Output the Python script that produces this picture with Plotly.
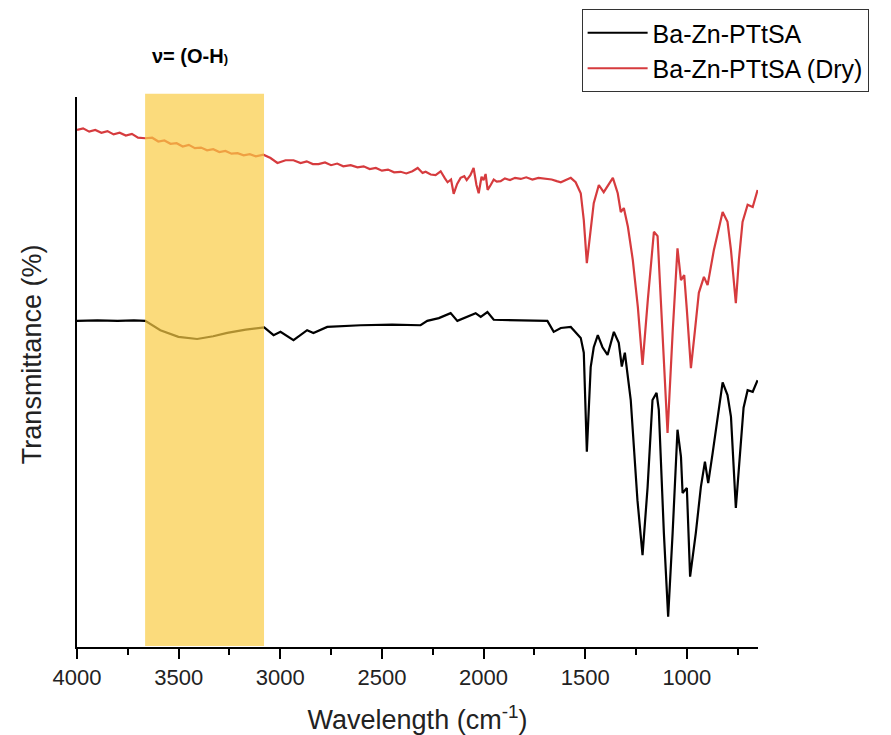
import plotly.graph_objects as go

# ---------------- data ----------------
wn_dry = [4000, 3970, 3940, 3910, 3880, 3850, 3820, 3790, 3760, 3730, 3700, 3664,
          3630, 3600, 3570, 3540, 3510, 3480, 3450, 3420, 3390, 3360, 3330, 3300,
          3270, 3240, 3210, 3180, 3150, 3120, 3083, 3048, 3014, 2974, 2935, 2900,
          2870, 2840, 2812, 2780, 2750, 2720, 2690, 2654, 2620, 2590, 2560, 2530,
          2500, 2470, 2440, 2408, 2380, 2350, 2324, 2300, 2285, 2260, 2236, 2211,
          2190, 2177, 2160, 2147, 2130, 2113, 2095, 2083, 2065, 2049, 2035, 2024,
          2010, 2000, 1990, 1980, 1965, 1950, 1935, 1916, 1895, 1870, 1845, 1817,
          1790, 1760, 1730, 1694, 1665, 1640, 1620, 1571, 1547, 1522, 1507, 1492,
          1473, 1458, 1433, 1409, 1364, 1340, 1325, 1310, 1290, 1266, 1241, 1218,
          1192, 1162, 1144, 1123, 1095, 1070, 1046, 1029, 1013, 1000, 980, 960,
          941, 916, 898, 867, 824, 800, 783, 759, 744, 726, 701, 676, 652]
t_dry = [94.0, 94.3, 93.7, 94.0, 93.5, 93.8, 93.2, 93.5, 93.0, 93.3, 92.6, 92.5,
         92.6, 91.9, 92.1, 91.5, 91.6, 91.0, 91.3, 90.7, 90.8, 90.3, 90.5, 90.0,
         90.2, 89.7, 89.8, 89.4, 89.6, 89.2, 89.5, 88.9, 88.0, 88.5, 88.5, 88.0,
         88.3, 87.8, 87.8, 88.1, 87.6, 87.9, 87.4, 87.6, 87.2, 87.4, 86.9, 87.1,
         86.6, 86.8, 86.3, 86.4, 86.1, 86.5, 87.1, 86.2, 86.4, 85.9, 85.8, 86.5,
         85.2, 84.5, 85.0, 82.4, 84.2, 85.3, 85.6, 84.9, 85.8, 87.1, 84.0, 82.5,
         85.5, 84.9, 86.0, 83.1, 84.0, 85.0, 84.6, 84.7, 85.2, 84.9, 85.3, 85.1,
         85.4, 85.0, 85.3, 85.1, 85.0, 84.7, 84.5, 85.3, 84.5, 82.5, 77.6, 69.8,
         76.4, 80.7, 84.0, 82.7, 85.3, 82.5, 79.1, 79.8, 76.4, 70.4, 61.8, 51.3,
         63.1, 75.5, 74.7, 59.5, 38.9, 57.1, 72.5, 66.7, 67.6, 61.3, 50.7, 57.6,
         64.4, 67.3, 65.8, 72.2, 79.1, 77.3, 72.2, 62.5, 70.4, 77.3, 80.4, 80.0, 83.1]

wn_wet = [4000, 3900, 3800, 3720, 3664, 3590, 3501, 3409, 3330, 3261, 3170, 3079,
          3033, 2999, 2935, 2868, 2837, 2769, 2605, 2450, 2310, 2277, 2220, 2162,
          2129, 2039, 2014, 1981, 1950, 1850, 1760, 1686, 1655, 1620, 1571, 1522,
          1507, 1492, 1473, 1458, 1438, 1415, 1390, 1359, 1335, 1320, 1305, 1276,
          1243, 1218, 1193, 1169, 1149, 1138, 1113, 1092, 1070, 1046, 1029, 1021,
          1000, 984, 956, 931, 911, 895, 873, 849, 824, 800, 783, 759, 742, 721,
          701, 676, 652]
t_wet = [59.3, 59.4, 59.3, 59.4, 59.3, 57.6, 56.4, 56.0, 56.5, 57.1, 57.7, 58.1,
         56.7, 57.3, 55.8, 57.6, 57.1, 58.2, 58.5, 58.6, 58.5, 59.3, 59.8, 60.7,
         59.3, 60.7, 60.0, 60.9, 59.5, 59.4, 59.3, 59.3, 57.3, 58.0, 58.2, 56.2,
         53.5, 35.5, 50.9, 54.5, 56.7, 54.5, 53.1, 57.3, 55.3, 51.0, 53.5, 44.9,
         26.7, 16.7, 29.1, 44.9, 46.2, 43.1, 20.7, 5.5, 20.7, 39.5, 34.6, 28.0,
         28.9, 12.8, 20.7, 29.1, 33.7, 29.8, 35.3, 41.9, 48.1, 45.8, 41.9, 25.3,
         32.8, 43.5, 46.7, 46.4, 48.5]

x_tick_vals = [4000, 3500, 3000, 2500, 2000, 1500, 1000]
x_tick_text = ["4000", "3500", "3000", "2500", "2000", "1500", "1000"]
band_range = [3665, 3080]          # O-H stretching region highlighted
band_label = "ν= (O-H<span style='font-size:13px'>)</span>"
series_names = ["Ba-Zn-PTtSA", "Ba-Zn-PTtSA (Dry)"]
x_title = "Wavelength (cm<sup>-1</sup>)"
y_title = "Transmittance (%)"

FONT = "Arial, 'Liberation Sans', sans-serif"

fig = go.Figure()
fig.add_trace(go.Scatter(x=wn_wet, y=t_wet, mode="lines", name=series_names[0],
                         line=dict(color="#000000", width=2.2)))
fig.add_trace(go.Scatter(x=wn_dry, y=t_dry, mode="lines", name=series_names[1],
                         line=dict(color="#D63B3E", width=2.2)))

fig.add_shape(type="rect", xref="x", yref="paper", x0=band_range[0], x1=band_range[1],
              y0=0.002, y1=1.006, fillcolor="rgb(250,204,69)", opacity=0.7,
              line=dict(width=0), layer="above")

fig.add_annotation(x=3442, y=1.074, xref="x", yref="paper", yanchor="middle",
                   text="<b>" + band_label + "</b>",
                   showarrow=False, font=dict(family=FONT, size=20, color="#000"))

# y-axis title placed like the reference (slightly above the plot centre)
fig.add_annotation(x=-0.065, y=0.532, xref="paper", yref="paper",
                   xanchor="center", yanchor="middle", textangle=-90,
                   text=y_title, showarrow=False,
                   font=dict(family=FONT, size=27, color="#222"))

fig.update_layout(
    width=891, height=735,
    margin=dict(l=77, r=133, t=97, b=88, autoexpand=False),
    paper_bgcolor="white", plot_bgcolor="white",
    font=dict(family=FONT, color="#000"),
    showlegend=True,
    legend=dict(x=0.741, y=1.16, xanchor="left", yanchor="top",
                bordercolor="#333", borderwidth=1, bgcolor="white",
                itemwidth=60,
                font=dict(family=FONT, size=25, color="#000"),
                tracegroupgap=0),
    xaxis=dict(range=[4000, 650], showgrid=False, zeroline=False,
               showline=True, linecolor="#000", linewidth=2,
               automargin=False,
               tickmode="array", tickvals=x_tick_vals, ticktext=x_tick_text,
               ticks="outside", ticklen=10, tickwidth=2, tickcolor="#000",
               minor=dict(dtick=250, ticks="outside", ticklen=6, tickwidth=2,
                          tickcolor="#000", showgrid=False),
               tickfont=dict(family=FONT, size=22, color="#222"),
               title=dict(text=x_title, standoff=23,
                          font=dict(family=FONT, size=27, color="#222"))),
    yaxis=dict(range=[0, 100], showgrid=False, zeroline=False,
               showline=True, linecolor="#000", linewidth=2,
               automargin=False,
               ticks="", showticklabels=False),
)

fig.write_html("out.html")
